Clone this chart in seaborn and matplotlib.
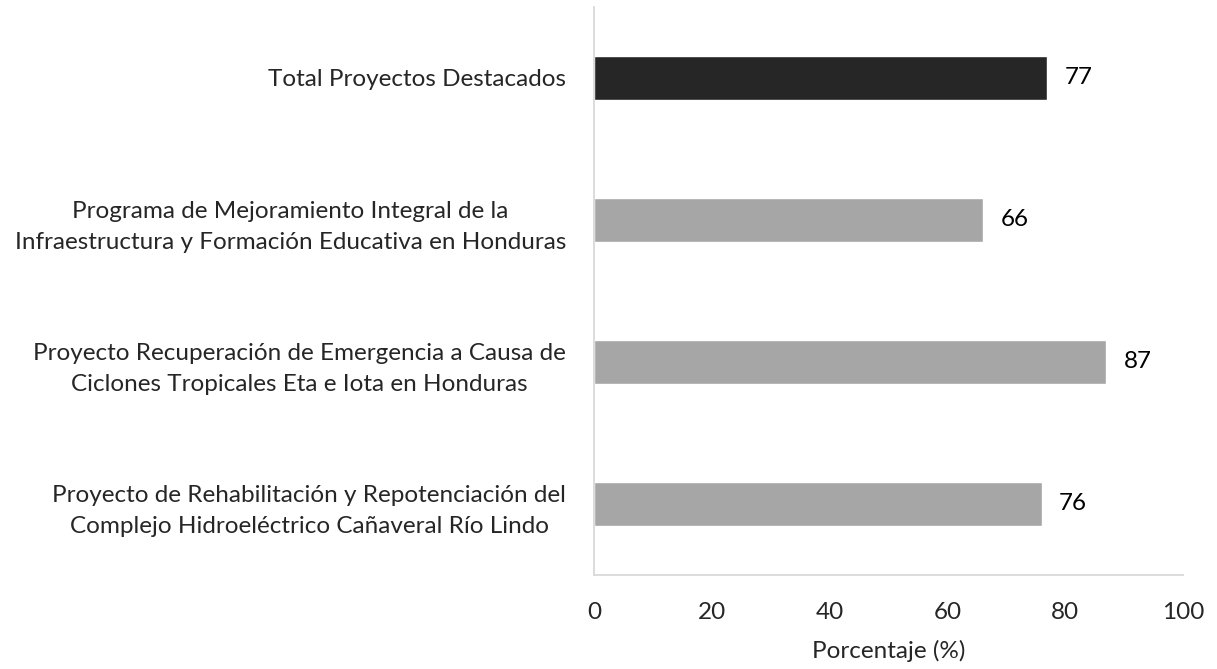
import matplotlib
matplotlib.use("Agg")
import matplotlib.pyplot as plt
import seaborn as sns
import pandas as pd

# data
proyectos = [
    "Total Proyectos Destacados",
    "Programa de Mejoramiento Integral de la\nInfraestructura y Formación Educativa en Honduras",
    "Proyecto Recuperación de Emergencia a Causa de\nCiclones Tropicales Eta e Iota en Honduras",
    "Proyecto de Rehabilitación y Repotenciación del\nComplejo Hidroeléctrico Cañaveral Río Lindo",
]
porcentaje = [77, 66, 87, 76]
colores = ["#262626", "#a6a6a6", "#a6a6a6", "#a6a6a6"]

df = pd.DataFrame({"proyecto": proyectos, "porcentaje": porcentaje})

sns.set_style("white")
plt.rcParams["font.family"] = ["Lato", "DejaVu Sans"]
fs = 17.5

fig = plt.figure(figsize=(12.17, 6.69), dpi=100)
ax = fig.add_axes([0.488, 0.141, 0.484, 0.849])
sns.barplot(data=df, x="porcentaje", y="proyecto", hue="proyecto",
            palette=colores, width=0.31, legend=False, ax=ax, orient="h")

for p, v in zip(ax.patches, porcentaje):
    ax.text(p.get_width() + 3.0, p.get_y() + p.get_height() / 2, str(v),
            va="center", ha="left", fontsize=fs, color="#000000")

ax.set_xlim(0, 100)
ax.set_xticks([0, 20, 40, 60, 80, 100])
ax.set_xlabel("Porcentaje (%)", fontsize=fs, labelpad=12)
ax.set_ylabel("")
ax.tick_params(axis="x", labelsize=fs, length=6, color="#d9d9d9", pad=14, direction="out")
ax.tick_params(axis="y", labelsize=fs, length=0, pad=20)
for lbl in ax.get_yticklabels():
    lbl.set_multialignment("center")
    lbl.set_linespacing(1.6)

for s in ["top", "right"]:
    ax.spines[s].set_visible(False)
for s in ["left", "bottom"]:
    ax.spines[s].set_color("#d9d9d9")
    ax.spines[s].set_linewidth(1.3)

fig.savefig("out.png", dpi=100)
